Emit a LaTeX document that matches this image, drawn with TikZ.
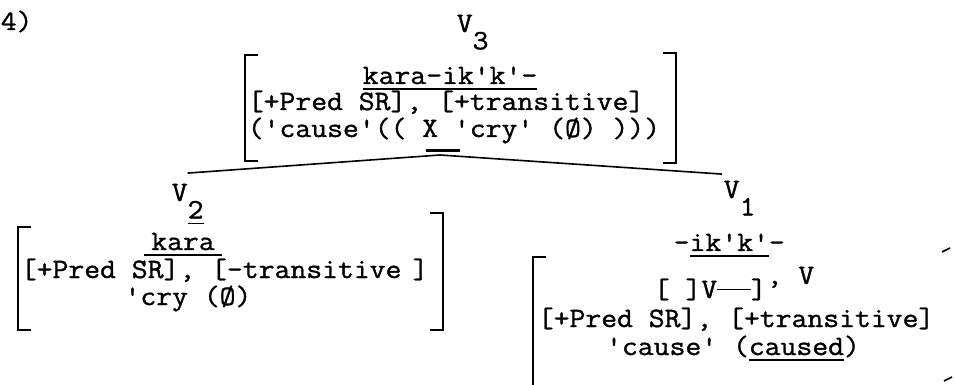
\documentclass[tikz,border=0pt]{standalone}
\usepackage{fontspec}
\setmonofont{Latin Modern Mono}[FakeStretch=1.1,FakeBold=1.2]
\usepackage{tikz}

\newcommand{\vsub}[1]{\raisebox{-0.62em}{#1}}
\newcommand{\tul}[1]{\setbox0\hbox{#1}\rlap{\rule[-0.2em]{\wd0}{1.4pt}}\box0}
\newcommand{\lbrk}[3]{\draw (#1+13,#2) -- (#1,#2) -- (#1,#3) -- (#1+13,#3);}
\newcommand{\rbrk}[3]{\draw (#1-13,#2) -- (#1,#2) -- (#1,#3) -- (#1-13,#3);}

\begin{document}
\begin{tikzpicture}[x=1pt,y=-1pt,line width=1.6pt,
    font=\ttfamily\fontsize{28}{30}\selectfont,
    txt/.style={anchor=base west,inner sep=0pt},
    ctr/.style={anchor=base,inner sep=0pt}]
    \useasboundingbox (0,0) rectangle (954,385);

    \node (num) [txt] at (0,30) {4)};
    \node (v3) [txt,inner sep=1pt] at (455,32) {V\vsub{3}};

    % V3 entry
    \node (kara3) [txt] at (362,84) {\tul{kara-ik'k'-}};
    \node (pred3) [txt] at (247,110) {[+Pred SR], [+transitive]};
    \node (sem3) [txt] at (247,137) {('cause'(( X 'cry' (Ø) )))};
    \lbrk{245}{55}{161}
    \rbrk{676}{53}{163}
    \draw[line width=3pt] (426,151) -- (460,151);
    \coordinate (root) at (440,155);

    % V2 entry
    \node (v2) [txt,inner sep=1pt] at (170,201) {V\vsub{\tul{2}}};
    \node (kara2) [ctr] at (183,250) {\tul{\hspace{.25em}kara\hspace{.25em}}};
    \node (pred2) [txt] at (20,278) {[+Pred SR], [-transitive\hspace{.4em}]};
    \node (cry2) [ctr] at (188,305) {'cry (Ø)};
    \lbrk{18}{227}{330}
    \rbrk{443}{213}{330}

    % V1 entry
    \node (v1) [txt,inner sep=1pt] at (722,198) {V\vsub{1}};
    \node (ik1) [txt] at (673,251) {-\tul{ik'k'}-};
    \node (frame1) [txt] at (653,298) {[ ]V\rule[.3em]{1.2em}{1pt}]\raisebox{.5em}{, V}};
    \node (pred1) [txt] at (537,327) {[+Pred SR], [+transitive]};
    \node (sem1) [ctr] at (733,355) {'cause' (\tul{caused})};
    \draw (546,257) -- (533,257) -- (533,385);
    \draw (942,252) -- (950,248);
    \draw (944,381) -- (952,377);

    \draw (root) -- ([yshift=9pt]v2.north);
    \draw (root) -- ([yshift=5pt]v1.north west);
\end{tikzpicture}
\end{document}
